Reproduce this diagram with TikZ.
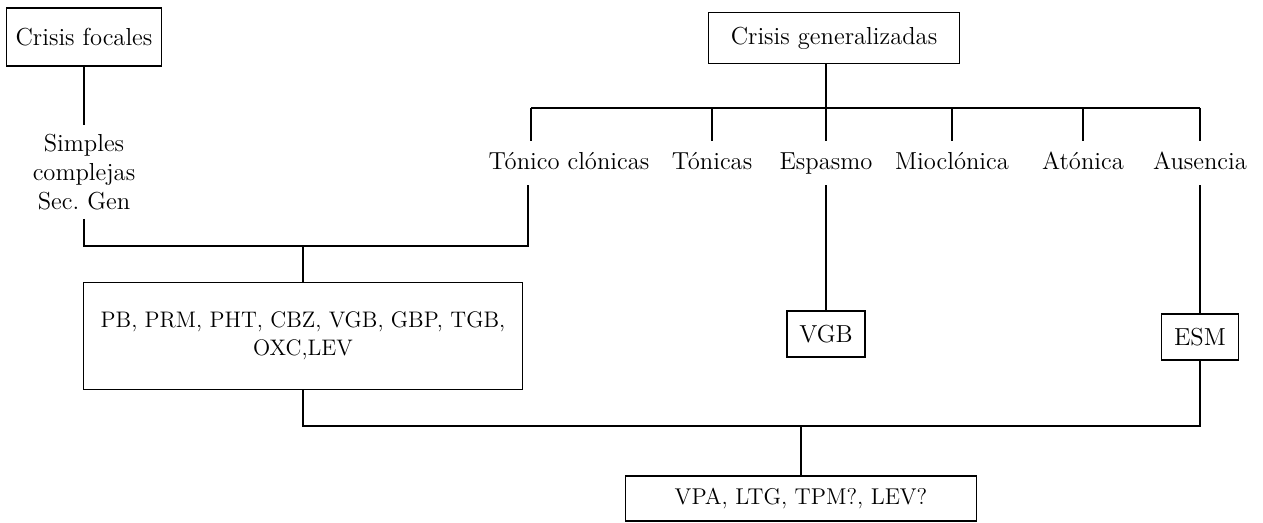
\documentclass[tikz,border=0pt]{standalone}
\usepackage{tikz}
\tikzstyle{box} = [rectangle, draw=black, text centered, inner sep=0pt, line width=0.6pt]
\tikzstyle{tipo} = [rectangle, text height=10pt, text depth=3pt, minimum height=0.88cm, inner sep=0pt, text centered]
\tikzstyle{conn} = [line width=0.6pt]

\begin{document}
\begin{tikzpicture}[x=0.02cm, y=-0.02cm, font=\fontsize{14}{16.5}\selectfont]
\useasboundingbox (0,0) rectangle (1263,523);
\node (focal) [box, minimum width=3.1cm, minimum height=1.16cm] at (84,37) {Crisis focales};
\node (simples) [align=center, minimum height=1.86cm, inner sep=0pt] at (84,172) {Simples\\complejas\\Sec.\ Gen};
\node (general) [box, minimum width=5.02cm, minimum height=1.02cm] at (834,38) {Crisis generalizadas};
\node (tc) [tipo] at (569,163) {Tónico clónicas};
\node (ton) [tipo] at (712,163) {Tónicas};
\node (esp) [tipo] at (826,163) {Espasmo};
\node (mio) [tipo] at (952,163) {Mioclónica};
\node (ato) [tipo] at (1083,163) {Atónica};
\node (aus) [tipo] at (1200,163) {Ausencia};
\node (pb) [box, minimum width=8.78cm, minimum height=2.14cm, align=center, font=\fontsize{12.8}{15.9}\selectfont] at (303,336) {PB, PRM, PHT, CBZ, VGB, GBP, TGB,\\OXC,LEV};
\node (vgb) [box, minimum width=1.56cm, minimum height=0.92cm] at (826,334) {VGB};
\node (esm) [box, minimum width=1.54cm, minimum height=0.92cm] at (1200,337) {ESM};
\node (final) [box, minimum width=7.02cm, minimum height=0.9cm, font=\fontsize{13}{16}\selectfont] at (801,498.5) {VPA, LTG, TPM?, LEV?};
% junction points of the bars
\coordinate (gbar) at (826,108);
\coordinate (lbar) at (303,246);
\coordinate (bbar) at (801,426);
\coordinate (tcup) at ([xshift=-0.76cm]tc.north);
\coordinate (tcdown) at ([xshift=-0.82cm]tc.south);
\draw [conn] (focal) -- (simples);
\draw [conn] (general.south -| esp.north) -- (esp.north);
\draw [conn] (tcup |- gbar) -- (aus.north |- gbar);
\draw [conn] (tcup |- gbar) -- (tcup);
\foreach \n in {ton, mio, ato, aus}
  \draw [conn] (\n.north |- gbar) -- (\n.north);
\draw [conn] (simples.south) |- (lbar) -| (tcdown);
\draw [conn] (lbar) -- (pb.north);
\draw [conn] (esp) -- (vgb);
\draw [conn] (aus) -- (esm);
\draw [conn] (pb.south) |- (bbar) -| (esm.south);
\draw [conn] (bbar) -- (final.north);
\end{tikzpicture}
\end{document}
